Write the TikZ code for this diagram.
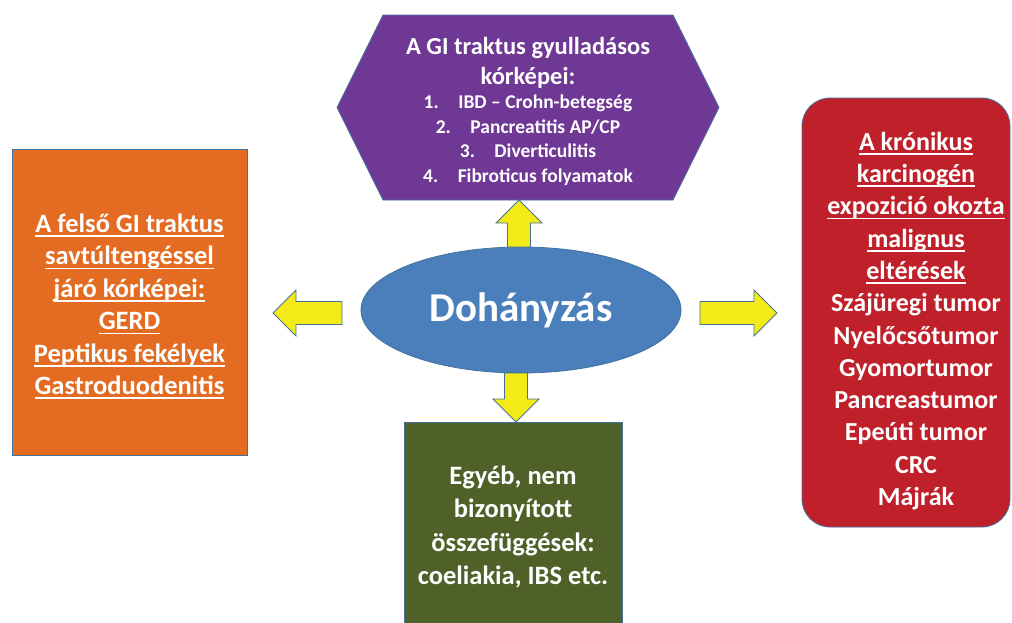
\documentclass[tikz,border=0pt]{standalone}
\usepackage{fontspec}
\setmainfont{Carlito}
\usetikzlibrary{calc,backgrounds,shapes.geometric}

\definecolor{keret}{HTML}{41719C}
\definecolor{narancs}{HTML}{E46C22}
\definecolor{lila}{HTML}{6F3894}
\definecolor{piros}{HTML}{C0202A}
\definecolor{olivzold}{HTML}{4F6128}
\definecolor{kek}{HTML}{4A7FBC}
\definecolor{sarga}{HTML}{F3EA17}

% alahuzott sor, a vonal helye nem fugg az also szaraktol
\newcommand{\alahuz}[1]{\setbox0\hbox{#1}\rlap{\vrule width\wd0 height -2.8pt depth 4.5pt}\box0}

\begin{document}
\begin{tikzpicture}[x=1pt, y=-1pt,
	doboz/.style={draw=keret, line width=0.8pt, text=white, font=\bfseries, align=center, inner sep=0pt, outer sep=0pt},
	nyil/.style={draw=keret, line width=0.8pt, fill=sarga, to path={
		($(\tikztostart)!11.5pt!-90:(\tikztotarget)$)
		-- ($(\tikztotarget)!23pt!(\tikztostart)!11.5pt!90:(\tikztostart)$)
		-- ($(\tikztotarget)!23pt!(\tikztostart)!23pt!90:(\tikztostart)$)
		-- (\tikztotarget)
		-- ($(\tikztotarget)!23pt!(\tikztostart)!23pt!-90:(\tikztostart)$)
		-- ($(\tikztotarget)!23pt!(\tikztostart)!11.5pt!-90:(\tikztostart)$)
		-- ($(\tikztostart)!11.5pt!90:(\tikztotarget)$) -- cycle}}]
	
	\path[use as bounding box, clip] (0,0) rectangle (1012,622);
	
	% --- KOZEPSO ELLIPSZIS ---
	\node[doboz, ellipse, fill=kek, minimum width=320, minimum height=126,
		font=\bfseries\fontsize{41}{44}\selectfont] (doh) at (521,310) {Dohányzás};
	
	% --- FELSO HATSZOG ---
	\node[doboz, draw=none, minimum width=290, minimum height=185,
		font=\bfseries\fontsize{19.5}{24.5}\selectfont] (gyull) at (528,111)
		{{\fontsize{24.5}{30}\selectfont A GI traktus gyulladásos}\\[5.5pt]
		 {\fontsize{24.5}{30}\selectfont kórképei:}\\
		 1.\hspace{1em}IBD – Crohn-betegség\\
		 2.\hspace{1em}Pancreatitis AP/CP\\
		 3.\hspace{1em}Diverticulitis\\
		 4.\hspace{1em}Fibroticus folyamatok};
	\begin{scope}[on background layer]
		\filldraw[draw=keret, line width=0.8pt, fill=lila] ($(gyull.north west)+(0,-3.5)$) -- ($(gyull.north east)+(0,-3.5)$)
			-- ($(gyull.east)+(46,-3.5)$) -- ($(gyull.south east)+(0,-3.5)$) -- ($(gyull.south west)+(0,-3.5)$)
			-- ($(gyull.west)+(-46,-3.5)$) -- cycle;
	\end{scope}
	
	% --- BAL OLDALI DOBOZ ---
	\node[doboz, fill=narancs, minimum width=235, minimum height=306] (felso) at (129.5,302) {};
	\node[doboz, draw=none, font=\bfseries\fontsize{26.5}{32.4}\selectfont] (felsoszoveg) at ($(felso.center)+(0,4.5)$)
		{\alahuz{A felső GI traktus}\\ \alahuz{savtúltengéssel}\\ \alahuz{járó kórképei:}\\
		 \alahuz{GERD}\\ \alahuz{Peptikus fekélyek}\\ \alahuz{Gastroduodenitis}};
	
	% --- JOBB OLDALI DOBOZ ---
	\node[doboz, fill=piros, rounded corners=28, minimum width=208, minimum height=429] (malig) at (906,312.5) {};
	\node[doboz, draw=none, font=\bfseries\fontsize{26}{32.3}\selectfont] (maligszoveg) at ($(malig.center)+(10,8.5)$)
		{\alahuz{A krónikus}\\ \alahuz{karcinogén}\\ \alahuz{expozició okozta}\\ \alahuz{malignus}\\ \alahuz{eltérések}\\
		 Szájüregi tumor\\ Nyelőcsőtumor\\ Gyomortumor\\ Pancreastumor\\ Epeúti tumor\\ CRC\\ Májrák};
	
	% --- ALSO DOBOZ ---
	\node[doboz, fill=olivzold, minimum width=218, minimum height=228] (egyeb) at (513,536) {};
	\node[doboz, draw=none, font=\bfseries\fontsize{26.5}{33.5}\selectfont] (egyebszoveg) at (513,527)
		{Egyéb, nem\\ bizonyított\\ összefüggések:\\ coeliakia, IBS etc.};
	
	% --- NYILAK ---
	\coordinate (fel1) at ($(doh.north)+(-2,0)$);
	\coordinate (fel2) at ($(fel1 |- gyull.south)+(0,-3.5)$);
	\coordinate (le1) at ($(doh.south)+(-5,0)$);
	\coordinate (le2) at (le1 |- egyeb.north);
	\coordinate (bal1) at ($(doh.west)+(-19,3)$);
	\coordinate (bal2) at ($(bal1 -| felso.east)+(26,0)$);
	\coordinate (jobb1) at ($(doh.east)+(19,3)$);
	\coordinate (jobb2) at ($(jobb1 -| malig.west)+(-25,0)$);
	\draw[nyil] (fel1) to (fel2);
	\draw[nyil] (le1) to (le2);
	\draw[nyil] (bal1) to (bal2);
	\draw[nyil] (jobb1) to (jobb2);
	
\end{tikzpicture}
\end{document}
